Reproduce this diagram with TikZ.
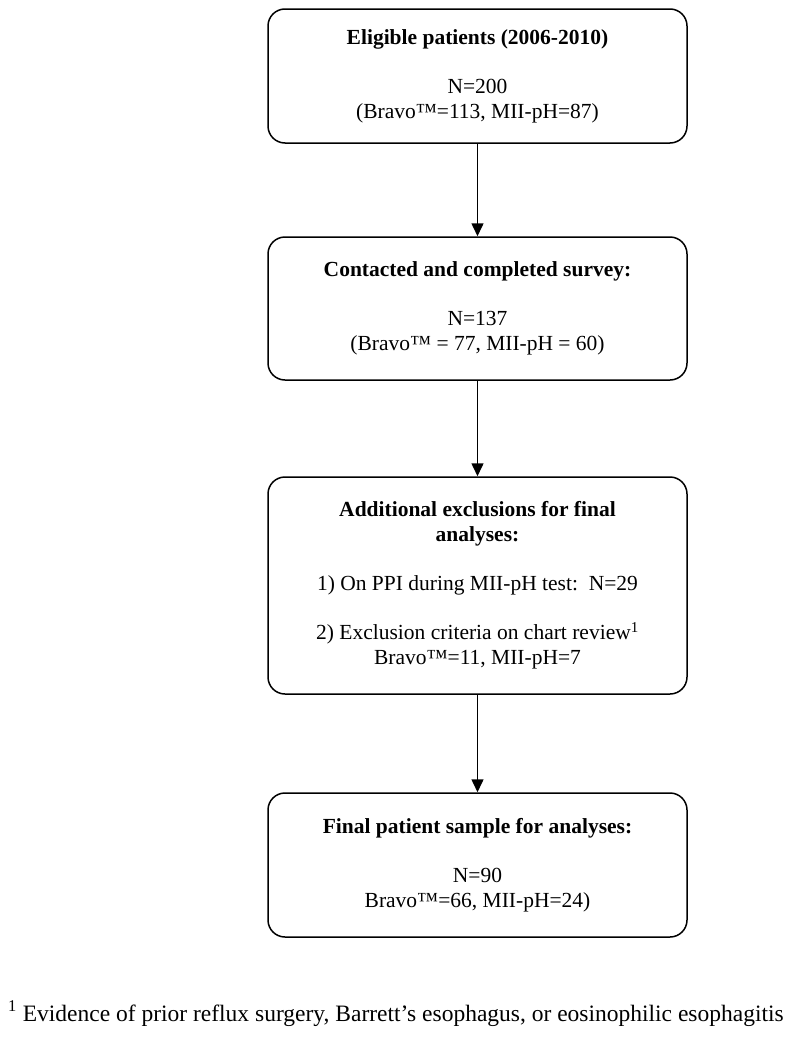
\documentclass[tikz,border=0pt]{standalone}
\usepackage{fontspec}
\setmainfont{Liberation Serif}
\usetikzlibrary{arrows.meta}
\tikzset{
  flowbox/.style={draw, line width=1.5pt, rounded corners=17pt, minimum width=419pt, align=center, font=\fontsize{21.5}{25}\selectfont, inner sep=0pt},
  flowarrow/.style={line width=1.5pt, -{Triangle[length=13pt,width=12pt]}},
}
\begin{document}
\begin{tikzpicture}[x=1pt, y=-1pt]
\useasboundingbox (0,0) rectangle (795,1044);
\node[flowbox, minimum height=134pt] (elig) at (477.5,76) {\textbf{Eligible patients (2006-2010)}\\[24pt] N=200\\ (Bravo™=113, MII-pH=87)};
\node[flowbox, minimum height=143pt] (survey) at (477.5,308.5) {\textbf{Contacted and completed survey:}\\[24pt] N=137\\ (Bravo™ = 77, MII-pH = 60)};
\node[flowbox, minimum height=217pt] (excl) at (477.5,585.5) {\textbf{Additional exclusions for final}\\ \textbf{analyses:}\\[24pt] 1) On PPI during MII-pH test:\ \ N=29\\[24pt] 2) Exclusion criteria on chart review\textsuperscript{1}\\ Bravo™=11, MII-pH=7};
\node[flowbox, minimum height=144pt] (final) at (477.5,865) {\textbf{Final patient sample for analyses:}\\[24pt] N=90\\ Bravo™=66, MII-pH=24)};
\draw[flowarrow] (elig) -- (survey);
\draw[flowarrow] (survey) -- (excl);
\draw[flowarrow] (excl) -- (final);
% footnote
\node[anchor=base west, inner sep=0pt, font=\fontsize{23.5}{28}\selectfont] (note) at (8,1021) {\textsuperscript{1} Evidence of prior reflux surgery, Barrett’s esophagus, or eosinophilic esophagitis};
\end{tikzpicture}
\end{document}
